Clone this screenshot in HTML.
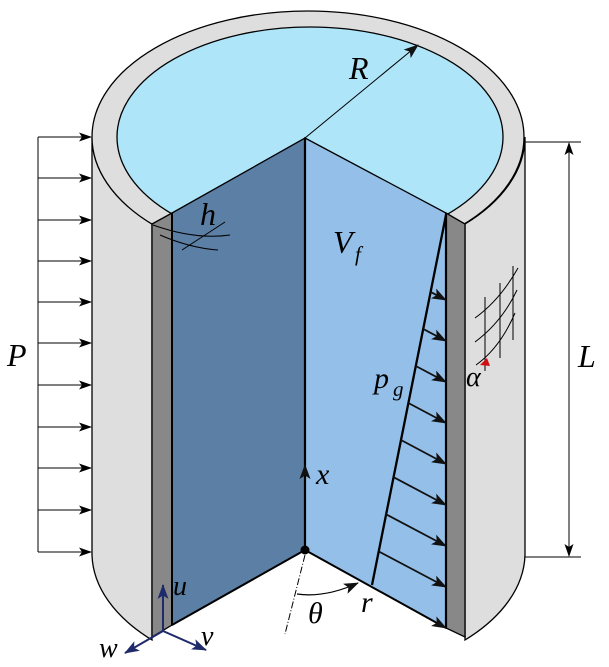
<!DOCTYPE html>
<html><head><meta charset="utf-8"><style>
body{margin:0;background:#fff}
svg{display:block}
text{font-family:"Liberation Serif","DejaVu Serif",serif;font-style:italic;fill:#000}
</style></head><body>
<svg width="609" height="667" viewBox="0 0 609 667" xmlns="http://www.w3.org/2000/svg" font-family="Liberation Serif, DejaVu Serif, serif">
<defs>
<marker id="ah" markerWidth="13" markerHeight="9" refX="12" refY="4.5" orient="auto" markerUnits="userSpaceOnUse"><path d="M0,0 L13,4.5 L0,9 L3,4.5 Z" fill="#000"/></marker>
<marker id="ah2" markerWidth="15" markerHeight="11" refX="14" refY="5.5" orient="auto" markerUnits="userSpaceOnUse"><path d="M0,0 L15,5.5 L0,11 L3.5,5.5 Z" fill="#111"/></marker>
<marker id="ahb" markerWidth="15" markerHeight="11" refX="14" refY="5.5" orient="auto" markerUnits="userSpaceOnUse"><path d="M0,0 L15,5.5 L0,11 L3.5,5.5 Z" fill="#1f2a6b"/></marker>
</defs>
<path d="M92,137 L92,555 A216,126 0 0 0 152,640 L152,224 A216,126 0 0 1 92,137 Z" fill="#dedede" stroke="#000" stroke-width="1.3"/>
<path d="M525,137 L525,555 A216,126 0 0 1 465,640 L465,224 A216,126 0 0 0 525,137 Z" fill="#dedede" stroke="#000" stroke-width="1.3"/>
<ellipse cx="308" cy="137" rx="216" ry="126" fill="#dedede" stroke="#000" stroke-width="1.3"/>
<ellipse cx="310" cy="137" rx="193" ry="110" fill="#aee5f8" stroke="#000" stroke-width="1.3"/>
<polygon points="152,224 172,213 172,625 152,637" fill="#888" stroke="#000" stroke-width="1.3"/>
<polygon points="446,213 465,224 465,637 446,628" fill="#888" stroke="#000" stroke-width="1.3"/>
<polygon points="172,213 305,138 305,550 172,625" fill="#5c7fa5" stroke="#000" stroke-width="1.3"/>
<polygon points="305,138 446,213 446,628 305,550" fill="#93bfe8" stroke="#000" stroke-width="1.3"/>
<line x1="305" y1="138" x2="305" y2="550" stroke="#000" stroke-width="2.2"/>
<line x1="172" y1="213" x2="172" y2="625" stroke="#000" stroke-width="2"/>
<line x1="446" y1="213" x2="446" y2="628" stroke="#000" stroke-width="2.2"/>
<line x1="305" y1="550" x2="172" y2="625" stroke="#000" stroke-width="2"/>
<line x1="305" y1="550" x2="446" y2="628" stroke="#000" stroke-width="2" marker-end="url(#ah2)"/>
<line x1="305" y1="138" x2="418" y2="45" stroke="#000" stroke-width="1" marker-end="url(#ah2)"/>
<text x="349" y="79" font-size="32">R</text>
<path d="M153,225 Q195,240 230,235" fill="none" stroke="#000" stroke-width="1"/>
<path d="M160,235 Q190,248 218,250" fill="none" stroke="#000" stroke-width="1"/>
<line x1="182" y1="250" x2="225" y2="222" stroke="#000" stroke-width="1"/>
<text x="200" y="225" font-size="32">h</text>
<text x="333" y="253" font-size="32">V</text>
<text x="355" y="261" font-size="21">f</text>
<line x1="305" y1="550" x2="305" y2="465" stroke="#000" stroke-width="2" marker-end="url(#ah2)"/>
<text x="316" y="484" font-size="30">x</text>
<circle cx="305" cy="550" r="4.5" fill="#000"/>
<line x1="305" y1="555" x2="285" y2="634" stroke="#000" stroke-width="1" stroke-dasharray="7,2,1,2"/>
<path d="M297,594 Q325,598 358,583" fill="none" stroke="#000" stroke-width="1.2" marker-end="url(#ah2)"/>
<text x="308" y="623" font-size="30">θ</text>
<text x="361" y="612" font-size="30">r</text>
<line x1="446" y1="215" x2="372" y2="585" stroke="#000" stroke-width="2.3"/>
<g stroke="#111" stroke-width="1.8" marker-end="url(#ah2)">
<line x1="430.6" y1="291.9" x2="446" y2="300"/>
<line x1="423.2" y1="328.9" x2="446" y2="341"/>
<line x1="415.8" y1="366" x2="446" y2="382"/>
<line x1="408.4" y1="403" x2="446" y2="423"/>
<line x1="401" y1="440" x2="446" y2="464"/>
<line x1="393.6" y1="477.2" x2="446" y2="505"/>
<line x1="386.1" y1="514.3" x2="446" y2="546"/>
<line x1="378.7" y1="551.4" x2="446" y2="587"/>
</g>
<text x="374" y="388" font-size="30">p</text>
<text x="393" y="396" font-size="21">g</text>
<g stroke="#000" stroke-width="1" fill="none">
<line x1="485" y1="297" x2="485" y2="371"/>
<line x1="500" y1="283" x2="500" y2="358"/>
<line x1="513" y1="266" x2="513" y2="340"/>
<path d="M475,318 Q500,300 518,268"/>
<path d="M475,342 Q502,322 517,290"/>
<path d="M476,365 Q500,348 515,313"/>
</g>
<path d="M480,365 L487,358 L490,366 Z" fill="#d01010"/>
<text x="466" y="386" font-size="28">α</text>
<line x1="38" y1="137" x2="38" y2="552" stroke="#000" stroke-width="1"/>
<g stroke="#000" stroke-width="1" marker-end="url(#ah)">
<line x1="38" y1="137" x2="91" y2="137"/><line x1="38" y1="178" x2="91" y2="178"/>
<line x1="38" y1="220" x2="91" y2="220"/><line x1="38" y1="261" x2="91" y2="261"/>
<line x1="38" y1="302" x2="91" y2="302"/><line x1="38" y1="343" x2="91" y2="343"/>
<line x1="38" y1="385" x2="91" y2="385"/><line x1="38" y1="427" x2="91" y2="427"/>
<line x1="38" y1="468" x2="91" y2="468"/><line x1="38" y1="510" x2="91" y2="510"/>
<line x1="38" y1="552" x2="91" y2="552"/>
</g>
<text x="7" y="366" font-size="32">P</text>
<line x1="525" y1="142" x2="581" y2="142" stroke="#000" stroke-width="1"/>
<line x1="525" y1="557" x2="581" y2="557" stroke="#000" stroke-width="1"/>
<line x1="569" y1="350" x2="569" y2="143" stroke="#000" stroke-width="1" marker-end="url(#ah)"/>
<line x1="569" y1="350" x2="569" y2="556" stroke="#000" stroke-width="1" marker-end="url(#ah)"/>
<text x="578" y="367" font-size="32">L</text>
<g stroke="#1f2a6b" stroke-width="2">
<line x1="163" y1="631" x2="163" y2="585" marker-end="url(#ahb)"/>
<line x1="163" y1="631" x2="206" y2="650" marker-end="url(#ahb)"/>
<line x1="163" y1="631" x2="125" y2="653" marker-end="url(#ahb)"/>
</g>
<text x="173" y="595" font-size="28">u</text>
<text x="201" y="645" font-size="28">v</text>
<text x="99" y="657" font-size="28">w</text>
</svg>
</body></html>
